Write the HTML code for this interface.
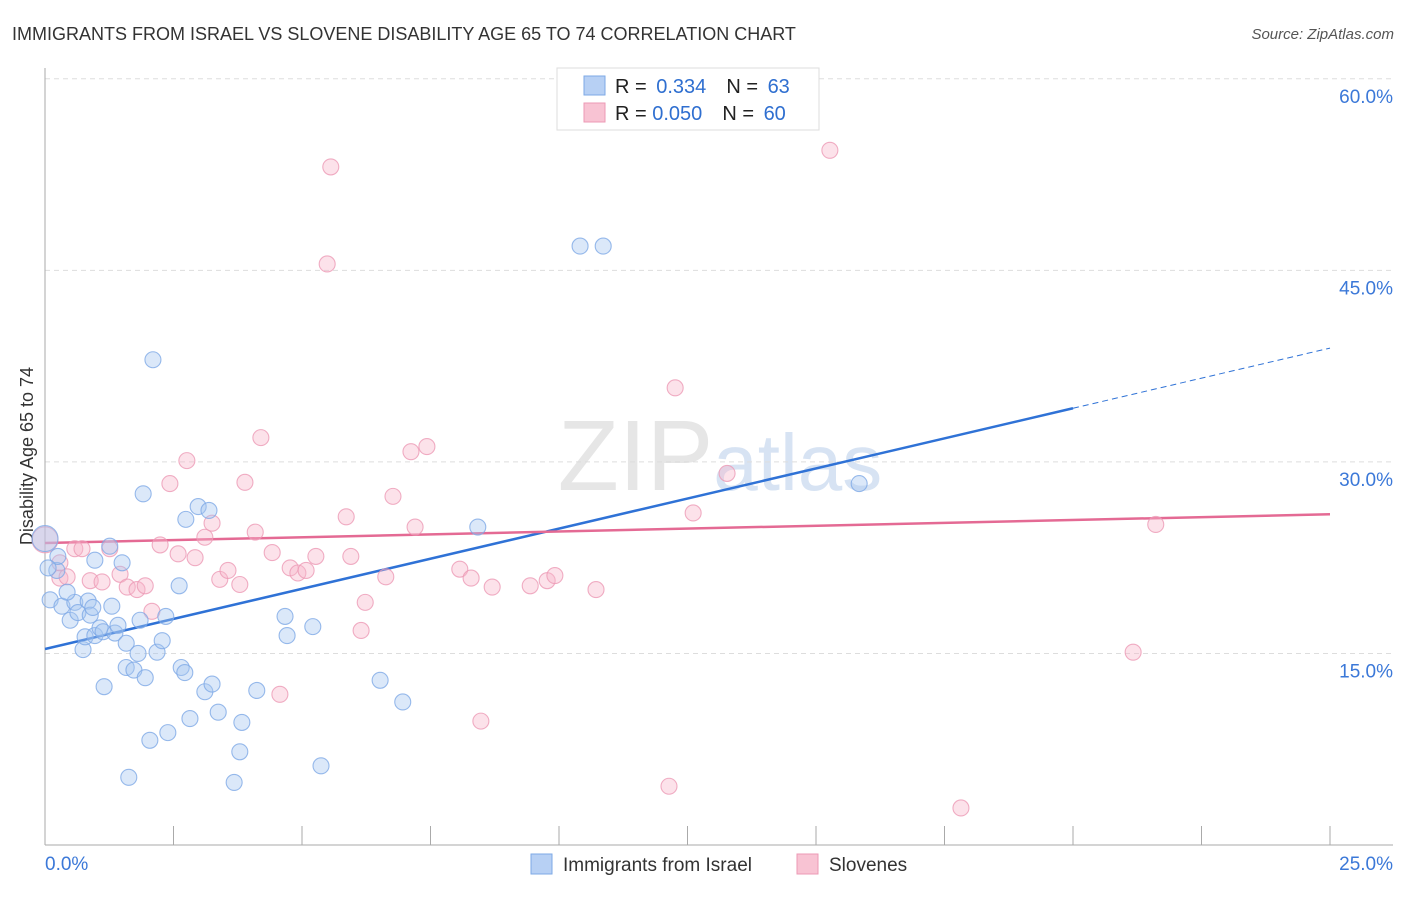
<!DOCTYPE html>
<html><head><meta charset="utf-8"><style>
body{margin:0;background:#fff;font-family:"Liberation Sans",sans-serif;}
svg text{font-family:"Liberation Sans",sans-serif;}
</style></head><body>
<svg id="chart" width="1406" height="892" xmlns="http://www.w3.org/2000/svg">
<text x="12" y="40" font-size="18" fill="#333">IMMIGRANTS FROM ISRAEL VS SLOVENE DISABILITY AGE 65 TO 74 CORRELATION CHART</text>
<text x="1394" y="39" font-size="15" fill="#555" text-anchor="end" font-style="italic">Source: ZipAtlas.com</text>
<text x="720" y="490" font-size="100" fill="#e6e6e6" text-anchor="middle" font-family="Liberation Serif">ZIP<tspan fill="#d7e3f3" font-family="Liberation Sans" font-size="80">atlas</tspan></text>
<text transform="translate(33,456) rotate(-90)" font-size="18" fill="#333" text-anchor="middle">Disability Age 65 to 74</text>
<g id="grid"></g><g id="axes"></g><g id="lines"></g><g id="pts"></g>
<g>
<rect x="557" y="68" width="262" height="62" fill="#fff" stroke="#ddd"/>
<rect x="584" y="76" width="21" height="19" fill="#b7d0f4" stroke="#7ea9e6"/>
<rect x="584" y="103" width="21" height="19" fill="#f8c3d3" stroke="#ec9ab5"/>
<text x="615" y="93" font-size="20" fill="#222">R = <tspan fill="#2f6fd0" dx="4">0.334</tspan><tspan fill="#222" dx="20">N = </tspan><tspan fill="#2f6fd0" dx="4">63</tspan></text>
<text x="615" y="120" font-size="20" fill="#222">R = <tspan fill="#2f6fd0">0.050</tspan><tspan fill="#222" dx="20">N = </tspan><tspan fill="#2f6fd0" dx="4">60</tspan></text>
</g>
<g>
<rect x="531" y="854" width="21" height="20" fill="#b7d0f4" stroke="#7ea9e6"/>
<text x="563" y="871" font-size="19" fill="#333">Immigrants from Israel</text>
<rect x="797" y="854" width="21" height="20" fill="#f8c3d3" stroke="#ec9ab5"/>
<text x="829" y="871" font-size="19" fill="#333">Slovenes</text>
</g>
</svg>
<script>
const blueX=[0.00,0.23,0.10,0.33,0.49,0.58,0.64,0.84,0.88,0.74,0.78,0.97,1.07,1.13,1.36,1.42,1.30,0.97,1.26,1.50,1.15,1.58,1.58,1.73,1.81,1.95,2.04,2.18,2.28,1.85,2.35,2.10,1.91,1.63,2.39,2.61,2.74,2.98,3.19,2.65,2.72,2.82,3.11,3.25,3.37,3.83,3.79,3.68,4.12,4.67,4.71,5.21,5.37,6.52,6.96,8.42,10.41,10.86,15.84,0.25,0.06,0.43,0.93];
const blueY=[24.0,21.5,19.2,18.7,17.6,19.0,18.2,19.1,18.0,15.3,16.3,16.4,17.0,16.7,16.6,17.2,18.7,22.3,23.4,22.1,12.4,15.8,13.9,13.7,15.0,13.1,8.2,15.1,16.0,17.6,17.9,38.0,27.5,5.3,8.8,20.3,25.5,26.5,26.2,13.9,13.5,9.9,12.0,12.6,10.4,9.6,7.3,4.9,12.1,17.9,16.4,17.1,6.2,12.9,11.2,24.9,46.9,46.9,28.3,22.6,21.7,19.8,18.6];
const pinkX=[0.00,0.29,0.43,0.58,0.72,0.88,1.11,1.26,1.46,1.60,1.79,1.95,2.08,2.24,2.43,2.59,2.76,2.92,3.11,3.25,3.40,3.56,3.79,3.89,4.09,4.20,4.42,4.57,4.77,4.92,5.08,5.27,5.49,5.56,5.86,5.95,6.15,6.23,6.63,6.77,7.12,7.20,7.43,8.07,8.29,8.48,8.70,9.44,9.77,9.92,10.72,12.14,12.26,12.61,13.27,15.27,17.82,21.17,21.61,0.29];
const pinkY=[23.9,20.9,21.0,23.2,23.2,20.7,20.6,23.2,21.2,20.2,20.0,20.3,18.3,23.5,28.3,22.8,30.1,22.5,24.1,25.2,20.8,21.5,20.4,28.4,24.5,31.9,22.9,11.8,21.7,21.3,21.5,22.6,45.5,53.1,25.7,22.6,16.8,19.0,21.0,27.3,30.8,24.9,31.2,21.6,20.9,9.7,20.2,20.3,20.7,21.1,20.0,4.6,35.8,26.0,29.1,54.4,2.9,15.1,25.1,22.1];
const yTicks=[15,30,45,60];
const yTickLabels=["15.0%","30.0%","45.0%","60.0%"];
const xTickLabels=["0.0%","25.0%"];
const blueTrend=[15.35,34.2];
const pinkTrend=[23.65,25.9];
const NS="http://www.w3.org/2000/svg";
const xs=v=>45+v/25*1285, ys=v=>845-v*12.77;
function mk(tag,attrs,parent){const e=document.createElementNS(NS,tag);for(const k in attrs)e.setAttribute(k,attrs[k]);document.getElementById(parent).appendChild(e);return e;}
yTicks.forEach((t,i)=>{
 const l=mk('line',{x1:45,x2:1393,y1:ys(t),y2:ys(t),stroke:'#ddd','stroke-dasharray':'5,4'},'grid');
 
 
 const tx=mk('text',{x:1393,y:ys(t)+24,'font-size':19,fill:'#3b78d8','text-anchor':'end'},'grid');tx.textContent=yTickLabels[i];
 
 
});
const ax=mk('line',{x1:45,x2:1393,y1:845,y2:845,stroke:'#aaa'},'axes');


const ay=mk('line',{x1:45,x2:45,y1:68,y2:845,stroke:'#aaa'},'axes');


for(let i=0;i<=10;i++){const t=mk('line',{x1:xs(i*2.5),x2:xs(i*2.5),y1:826,y2:845,stroke:'#aaa'},'axes');
 
 }
[[0,'start',45],[25,'end',1393]].forEach((d,i)=>{const t=mk('text',{x:d[2],y:870,'font-size':19,fill:'#3b78d8','text-anchor':d[1]},'axes');t.textContent=xTickLabels[i];
 
 });
function drawPts(X,Y,fill,stroke,name){X.forEach((x,i)=>{const c=mk('circle',{cx:xs(x),cy:ys(Y[i]),r:i===0?13:8,fill:fill,'fill-opacity':0.4,stroke:stroke,'stroke-opacity':0.8,'stroke-width':1.1},'pts');
 
 });}
drawPts(pinkX,pinkY,'#f7b6ca','#ec9ab5','slovenes-point');
drawPts(blueX,blueY,'#a6c5f0','#7ea9e6','israel-point');
const bslope=(blueTrend[1]-blueTrend[0])/20;
const b1=mk('line',{x1:xs(0),y1:ys(blueTrend[0]),x2:xs(20),y2:ys(blueTrend[1]),stroke:'#2f72d6','stroke-width':2.5},'lines');


const b2=mk('line',{x1:xs(20),y1:ys(blueTrend[1]),x2:xs(25),y2:ys(blueTrend[0]+bslope*25),stroke:'#2f72d6','stroke-width':1,'stroke-dasharray':'6,4'},'lines');


const p1=mk('line',{x1:xs(0),y1:ys(pinkTrend[0]),x2:xs(25),y2:ys(pinkTrend[1]),stroke:'#e46a94','stroke-width':2.5},'lines');


</script>
</body></html>
